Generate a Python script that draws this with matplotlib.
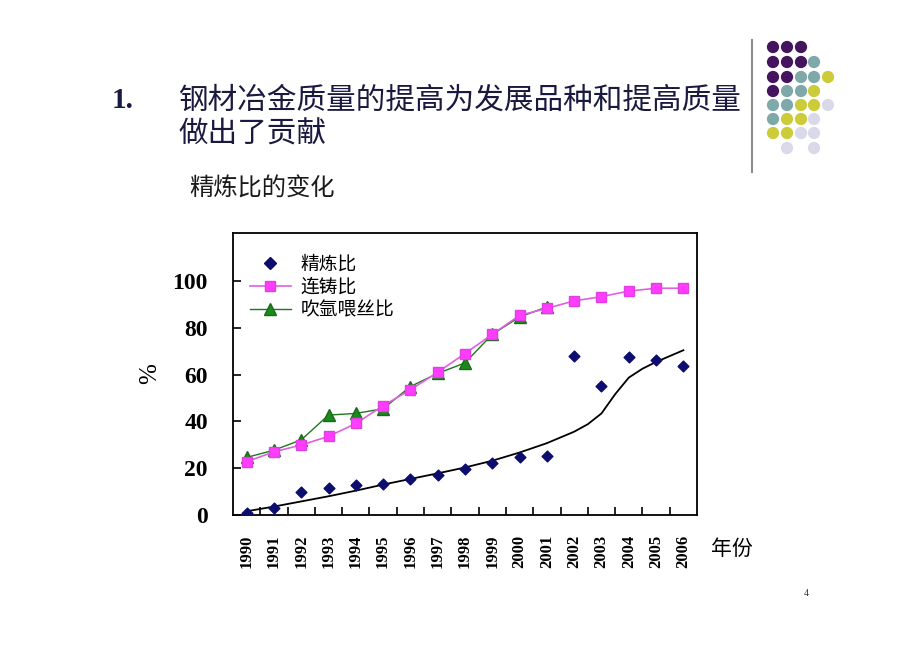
import numpy as np
import matplotlib
matplotlib.use("Agg")
import matplotlib.pyplot as plt
from matplotlib.lines import Line2D

plt.rcParams['font.family'] = ['Noto Sans CJK SC', 'DejaVu Sans']

# ==========================================
# 数据
# ==========================================
years = ['1990', '1991', '1992', '1993', '1994', '1995', '1996', '1997', '1998',
         '1999', '2000', '2001', '2002', '2003', '2004', '2005', '2006']

# 精炼比 (散点)
refine_ratio = [1, 3, 10, 11.5, 12.7, 13.4, 15.4, 17.2, 19.6, 22.2, 24.6, 25,
                68, 55, 67.5, 66.2, 63.8]
# 连铸比
cast_ratio = [22.8, 27, 29.9, 33.6, 39.1, 46.7, 53.5, 61, 69, 77.2, 85.3, 88.3,
              91.5, 93.3, 95.7, 96.9, 96.9]
# 吹氩喂丝比 (1990-2001)
argon_ratio = [24.6, 27.7, 32.1, 42.7, 43.4, 45.4, 54.9, 60.5, 65, 77.2, 84.6, 88.9]

# 精炼比趋势线 (读取的曲线位置, 以年份序号计)
trend_pos = [0, 1, 2, 3, 4, 5, 6, 7, 8, 9, 10, 11, 12, 12.5, 13, 13.5, 14, 14.5, 15, 16]
trend_val = [1.6, 3.6, 5.8, 8, 10.4, 13, 15.4, 17.8, 20.3, 23.2, 26.7, 30.7,
             35.6, 38.8, 43.4, 51.6, 58.7, 62.5, 65.4, 70.4]

y_ticks = [0, 20, 40, 60, 80, 100]

# 右上角装饰圆点 (像素坐标) 与颜色
PURPLE, TEAL, OLIVE, LILAC = '#44145e', '#7fa8a8', '#cccc3a', '#d9d9ea'
dot_cols = [773, 787, 801, 814, 828]
dot_rows = [47, 62, 77, 91, 105, 119, 133, 148]
dot_grid = [
    [PURPLE, PURPLE, PURPLE, None, None],
    [PURPLE, PURPLE, PURPLE, TEAL, None],
    [PURPLE, PURPLE, TEAL, TEAL, OLIVE],
    [PURPLE, TEAL, TEAL, OLIVE, None],
    [TEAL, TEAL, OLIVE, OLIVE, LILAC],
    [TEAL, OLIVE, OLIVE, LILAC, None],
    [OLIVE, OLIVE, LILAC, LILAC, None],
    [None, LILAC, None, LILAC, None],
]

# ==========================================
# 画图
# ==========================================
fig = plt.figure(figsize=(9.2, 6.5), dpi=100)
fig.patch.set_facecolor('white')

# 背景层: 标题和装饰
bg = fig.add_axes([0, 0, 1, 1])
bg.set_xlim(0, 920)
bg.set_ylim(650, 0)
bg.axis('off')

for r, row in zip(dot_rows, dot_grid):
    for c, col in zip(dot_cols, row):
        if col is not None:
            bg.scatter(c, r, s=78, color=col, edgecolors='none')
bg.plot([752, 752], [40, 172], color='#8c8c8c', lw=1.5)

bg.text(112, 100, '1.', fontsize=21, fontweight='bold', family='Liberation Serif',
        color='#1a1a40', va='center', ha='left')
bg.text(178, 100, '钢材冶金质量的提高为发展品种和提高质量', fontsize=21.3,
        color='#1a1a40', va='center', ha='left')
bg.text(178, 134, '做出了贡献', fontsize=21.3, color='#1a1a40', va='center', ha='left')
bg.text(189, 189, '精炼比的变化', fontsize=17.5, color='#1a1a1a', va='center', ha='left')
bg.text(806, 593, '4', fontsize=7, family='Liberation Serif', color='#333333',
        va='center', ha='center')

# 主图
ax = fig.add_axes([233 / 920, 135 / 650, 464 / 920, 282 / 650])
x = np.arange(len(years))

ax.plot(trend_pos, trend_val, color='black', lw=1.3, zorder=2)
ax.plot(x[:len(argon_ratio)], argon_ratio, color='#1a7a1a', lw=1.0, marker='^',
        ms=8, mfc='#1a8a1a', mec='#1a6a1a', zorder=3)
ax.plot(x, cast_ratio, color='#e060e0', lw=1.2, marker='s', ms=7,
        mfc='#ff3cff', mec='#e040e0', zorder=4)
ax.scatter(x, refine_ratio, marker='D', s=30, color='#0d0d70', zorder=5)

ax.set_xlim(-0.5, len(years) - 0.5)
ax.set_ylim(0, 120.5)

ax.set_yticks(y_ticks)
ax.set_yticklabels([str(v) for v in y_ticks], fontsize=17, fontweight='bold',
                   family='Liberation Serif')
ax.set_xticks(x)
ax.set_xticklabels(years, rotation=90, fontsize=12, fontweight='bold',
                   family='Liberation Serif')
ax.tick_params(axis='x', which='major', length=0, pad=14)
ax.set_xticks(np.arange(0.5, len(years) - 1, 1), minor=True)
ax.tick_params(axis='x', which='minor', direction='in', length=6, width=1.2)
ax.tick_params(axis='y', direction='in', length=6, width=1.2, pad=18)
for s in ax.spines.values():
    s.set_linewidth(1.3)

ax.set_ylabel('%', fontsize=18, family='Liberation Serif', labelpad=8)
ax.text(1.03, -0.12, '年份', transform=ax.transAxes, fontsize=15,
        va='center', ha='left')

handles = [
    Line2D([], [], ls='none', marker='D', ms=6, color='#0d0d70'),
    Line2D([], [], color='#e060e0', lw=1.2, marker='s', ms=7, mfc='#ff3cff', mec='#e040e0'),
    Line2D([], [], color='#1a7a1a', lw=1.0, marker='^', ms=8, mfc='#1a8a1a', mec='#1a6a1a'),
]
ax.legend(handles, ['精炼比', '连铸比', '吹氩喂丝比'], loc='upper left',
          bbox_to_anchor=(0.02, 0.955), frameon=False, fontsize=13.5,
          handlelength=2.2, handletextpad=0.5, labelspacing=0.12, borderaxespad=0)

plt.savefig('out.png', dpi=100)
plt.close()
